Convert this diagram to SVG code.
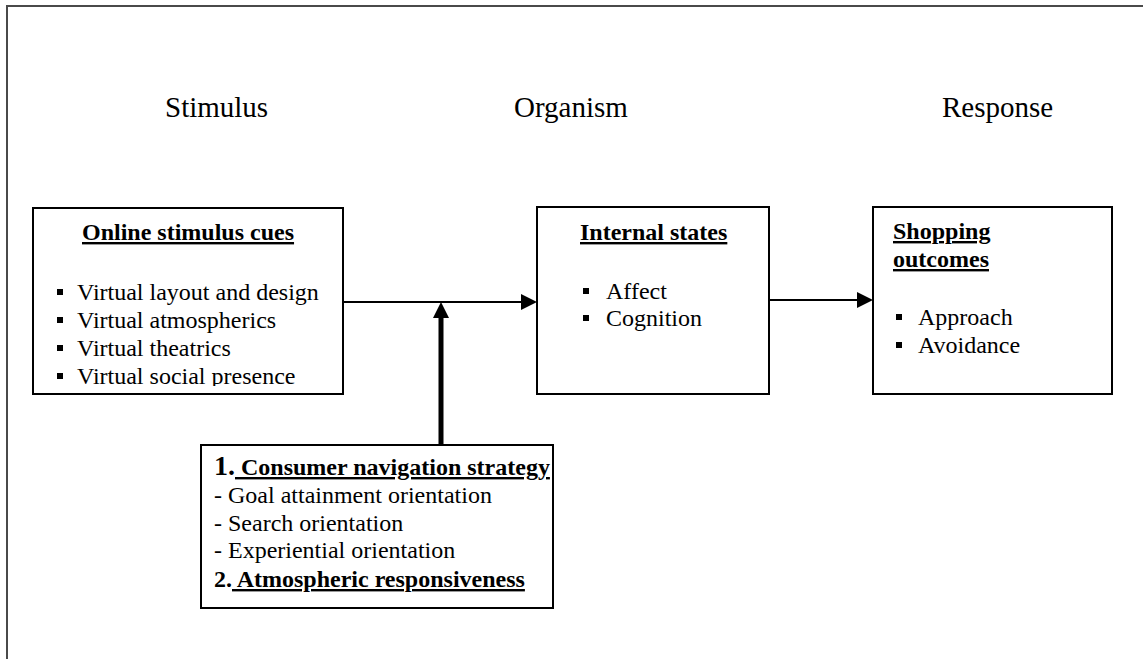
<svg xmlns="http://www.w3.org/2000/svg" width="1143" height="659" viewBox="0 0 1143 659">
  <style>
    text { font-family: "Liberation Serif", "Times New Roman", serif; fill: #000; }
    .stage { font-size: 29px; }
    .head { font-size: 24px; font-weight: bold; text-decoration: underline; }
    .item { font-size: 24px; }
    .box { fill: #fff; stroke: #000; stroke-width: 2; }
    .bullet { fill: #000; }
    .link { stroke: #000; stroke-width: 2; fill: none; }
    .link-bold { stroke: #000; stroke-width: 5; fill: none; }
    .head-arrow { fill: #000; }
  </style>
  <defs>
    <clipPath id="clip-cues">
      <rect x="34" y="209" width="308" height="177"/>
    </clipPath>
  </defs>

  <rect width="1143" height="659" fill="#fff"/>
  <!-- outer frame (runs off the right and bottom edges) -->
  <path d="M7,670 V6 H1160" fill="none" stroke="#4a4a4a" stroke-width="2"/>

  <!-- stage labels -->
  <g id="labels">
    <text class="stage" x="165" y="117">Stimulus</text>
    <text class="stage" x="514" y="117">Organism</text>
    <text class="stage" x="942" y="117">Response</text>
  </g>

  <!-- connectors -->
  <g id="connectors">
    <line class="link" x1="343" y1="302" x2="522" y2="302"/>
    <polygon class="head-arrow" points="521,294 537,302 521,310"/>
    <line class="link" x1="769" y1="300" x2="858" y2="300"/>
    <polygon class="head-arrow" points="857,292 873,300 857,308"/>
    <line class="link-bold" x1="441" y1="445" x2="441" y2="316"/>
    <polygon class="head-arrow" points="433,318 441,302 449,318"/>
  </g>

  <g id="stimulus-cues">
    <rect class="box" x="33" y="208" width="310" height="186"/>
    <g clip-path="url(#clip-cues)">
      <text class="head" x="82" y="240">Online stimulus cues</text>
      <rect class="bullet" x="57" y="289" width="6" height="6"/>
      <text class="item" x="77" y="300">Virtual layout and design</text>
      <rect class="bullet" x="57" y="317" width="6" height="6"/>
      <text class="item" x="77" y="328">Virtual atmospherics</text>
      <rect class="bullet" x="57" y="345" width="6" height="6"/>
      <text class="item" x="77" y="356">Virtual theatrics</text>
      <rect class="bullet" x="57" y="373" width="6" height="6"/>
      <text class="item" x="77" y="384">Virtual social presence</text>
    </g>
  </g>

  <g id="internal-states">
    <rect class="box" x="537" y="207" width="232" height="187"/>
    <text class="head" x="580" y="240">Internal states</text>
    <rect class="bullet" x="583" y="288" width="6" height="6"/>
    <text class="item" x="606" y="299">Affect</text>
    <rect class="bullet" x="583" y="315" width="6" height="6"/>
    <text class="item" x="606" y="326">Cognition</text>
  </g>

  <g id="shopping-outcomes">
    <rect class="box" x="873" y="207" width="239" height="187"/>
    <text class="head" x="893" y="239">Shopping</text>
    <text class="head" x="893" y="267">outcomes</text>
    <rect class="bullet" x="896" y="314" width="6" height="6"/>
    <text class="item" x="918" y="325">Approach</text>
    <rect class="bullet" x="896" y="342" width="6" height="6"/>
    <text class="item" x="918" y="353">Avoidance</text>
  </g>

  <g id="moderators">
    <rect class="box" x="201" y="445" width="352" height="163"/>
    <text x="214" y="475" font-weight="bold"><tspan font-size="28px">1.</tspan><tspan font-size="24px" text-decoration="underline"> Consumer navigation strategy</tspan></text>
    <text class="item" x="214" y="503">- Goal attainment orientation</text>
    <text class="item" x="214" y="531">- Search orientation</text>
    <text class="item" x="214" y="558">- Experiential orientation</text>
    <text x="214" y="587" font-size="24px" font-weight="bold">2.<tspan text-decoration="underline"> Atmospheric responsiveness</tspan></text>
  </g>
</svg>
